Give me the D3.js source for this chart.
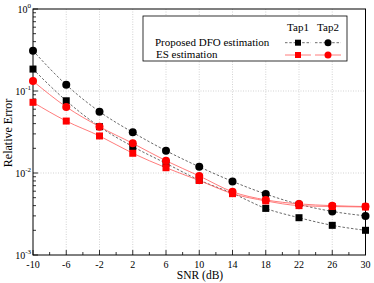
<!DOCTYPE html>
<html>
<head>
<meta charset="utf-8">
<script src="https://d3js.org/d3.v7.min.js"></script>
<style>
  body { margin: 0; background: #fff; }
</style>
</head>
<body>
<div id="chart"></div>
<script>
// chart values
var snr = [-10, -6, -2, 2, 6, 10, 14, 18, 22, 26, 30];
var dfoTap1 = [0.185, 0.076, 0.0367, 0.021, 0.0131, 0.0082, 0.00565, 0.0037, 0.00285, 0.0023, 0.0020];
var dfoTap2 = [0.31, 0.119, 0.056, 0.0313, 0.0187, 0.0119, 0.0079, 0.00554, 0.00415, 0.0034, 0.0030];
var esTap1 = [0.0728, 0.043, 0.0283, 0.0174, 0.0116, 0.0081, 0.0056, 0.00457, 0.0040, 0.0039, 0.00385];
var esTap2 = [0.132, 0.064, 0.0367, 0.023, 0.0141, 0.0092, 0.0059, 0.0047, 0.0042, 0.0040, 0.0039];
var xTicks = [-10, -6, -2, 2, 6, 10, 14, 18, 22, 26, 30];
var yExps = [0, -1, -2, -3];

(function () {
    var W = 374, H = 283;
    var mL = 33, mR = 365.5, mT = 9, mB = 255;
    var FONT = "'Liberation Serif'";

    var svg = d3.select("#chart").append("svg")
        .attr("width", W).attr("height", H);

    function txt(sel) {
        return sel.append("text").style("font-family", FONT).attr("fill", "#000");
    }

    var x = d3.scaleLinear().domain([-10, 30]).range([mL, mR]);
    var y = d3.scaleLog().domain([1e-3, 1]).range([mB, mT]);

    // grid
    var g = svg.append("g");
    xTicks.slice(1, -1).forEach(function (t) {
        g.append("line").attr("x1", x(t)).attr("x2", x(t)).attr("y1", mT).attr("y2", mB)
            .attr("stroke", "#c8c8c8").attr("stroke-width", 0.8).attr("stroke-dasharray", "1,1.5");
    });
    [0.1, 0.01].forEach(function (v) {
        g.append("line").attr("x1", mL).attr("x2", mR).attr("y1", y(v)).attr("y2", y(v))
            .attr("stroke", "#c8c8c8").attr("stroke-width", 0.8).attr("stroke-dasharray", "1,1.5");
    });

    // minor ticks y (inside)
    var minor = [];
    yExps.slice(1).forEach(function (e) {
        for (var k = 2; k <= 9; k++) minor.push(k * Math.pow(10, e));
    });
    minor.forEach(function (v) {
        svg.append("line").attr("x1", mL).attr("x2", mL + 3).attr("y1", y(v)).attr("y2", y(v))
            .attr("stroke", "#000").attr("stroke-width", 0.8);
    });
    yExps.forEach(function (e) {
        var v = Math.pow(10, e);
        svg.append("line").attr("x1", mL).attr("x2", mL + 5).attr("y1", y(v)).attr("y2", y(v))
            .attr("stroke", "#000").attr("stroke-width", 0.8);
        var t = txt(svg).attr("x", 31).attr("y", y(v) + 4)
            .attr("text-anchor", "end").attr("font-size", 10);
        t.append("tspan").text("10");
        t.append("tspan").attr("dy", -5).attr("font-size", 7).text(e === 0 ? "0" : "-" + (-e));
    });

    // x ticks
    d3.range(-10, 31, 2).forEach(function (t) {
        var major = xTicks.indexOf(t) >= 0;
        svg.append("line").attr("x1", x(t)).attr("x2", x(t)).attr("y1", mB).attr("y2", mB - (major ? 5 : 3))
            .attr("stroke", "#000").attr("stroke-width", 0.8);
    });
    xTicks.forEach(function (t) {
        txt(svg).attr("x", x(t)).attr("y", 268).attr("text-anchor", "middle")
            .attr("font-size", 10).text(t);
    });

    // frame
    svg.append("rect").attr("x", mL).attr("y", mT).attr("width", mR - mL).attr("height", mB - mT)
        .attr("fill", "none").attr("stroke", "#000").attr("stroke-width", 1);

    // labels
    txt(svg).attr("x", 200).attr("y", 279).attr("text-anchor", "middle")
        .attr("font-size", 11.5).text("SNR (dB)");
    txt(svg).attr("transform", "translate(11.5,133) rotate(-90)")
        .attr("text-anchor", "middle").attr("font-size", 12).text("Relative Error");

    // series
    var series = [
        { vals: dfoTap1, color: "#000", line: "#444", dash: "2.5,1.8", shape: "square" },
        { vals: dfoTap2, color: "#000", line: "#444", dash: "2.5,1.8", shape: "circle" },
        { vals: esTap1, color: "#ff0000", line: "#ff5a5a", dash: null, shape: "square" },
        { vals: esTap2, color: "#ff0000", line: "#ff5a5a", dash: null, shape: "circle" }
    ];

    var lineGen = d3.line().x(function (d, i) { return x(snr[i]); }).y(function (d) { return y(d); })
        .curve(d3.curveMonotoneX);

    series.forEach(function (s) {
        svg.append("path").datum(s.vals).attr("d", lineGen).attr("fill", "none")
            .attr("stroke", s.line).attr("stroke-width", 0.8)
            .attr("stroke-dasharray", s.dash);
    });
    series.forEach(function (s) {
        s.vals.forEach(function (v, i) {
            var cx = x(snr[i]), cy = y(v);
            if (s.shape === "square") {
                svg.append("rect").attr("x", cx - 3.5).attr("y", cy - 3.5).attr("width", 7).attr("height", 7)
                    .attr("fill", s.color);
            } else {
                svg.append("circle").attr("cx", cx).attr("cy", cy).attr("r", 4).attr("fill", s.color);
            }
        });
    });

    // legend
    var lg = svg.append("g");
    lg.append("rect").attr("x", 143).attr("y", 16).attr("width", 204).attr("height", 45)
        .attr("fill", "#fff").attr("stroke", "#000").attr("stroke-width", 0.8);
    txt(lg).attr("x", 298).attr("y", 31).attr("text-anchor", "middle").attr("font-size", 11).text("Tap1");
    txt(lg).attr("x", 328).attr("y", 31).attr("text-anchor", "middle").attr("font-size", 11).text("Tap2");
    txt(lg).attr("x", 155).attr("y", 46).attr("font-size", 11).text("Proposed DFO estimation");
    txt(lg).attr("x", 156).attr("y", 58).attr("font-size", 11).text("ES estimation");
    var legRows = [
        { y: 42.7, items: [series[0], series[1]] },
        { y: 55, items: [series[2], series[3]] }
    ];
    legRows.forEach(function (r) {
        r.items.forEach(function (s, j) {
            var cx = j === 0 ? 298 : 328;
            lg.append("line").attr("x1", cx - 13).attr("x2", cx + 13).attr("y1", r.y).attr("y2", r.y)
                .attr("stroke", s.line).attr("stroke-width", 0.8).attr("stroke-dasharray", s.dash);
            if (s.shape === "square") {
                lg.append("rect").attr("x", cx - 3).attr("y", r.y - 3).attr("width", 6).attr("height", 6).attr("fill", s.color);
            } else {
                lg.append("circle").attr("cx", cx).attr("cy", r.y).attr("r", 3.5).attr("fill", s.color);
            }
        });
    });
}());
</script>
</body>
</html>
